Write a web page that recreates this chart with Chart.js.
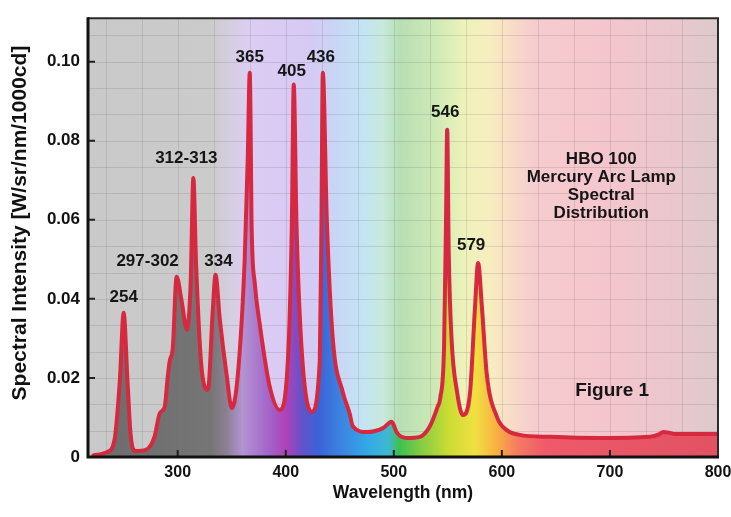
<!DOCTYPE html>
<html>
<head>
<meta charset="utf-8">
<title>HBO 100 Mercury Arc Lamp Spectral Distribution</title>
<script src="https://cdn.jsdelivr.net/npm/chart.js@4.4.1/dist/chart.umd.min.js"></script>
<style>
  html, body { margin: 0; padding: 0; background: #fff; }
  #wrap { width: 731px; height: 517px; }
</style>
</head>
<body>
<div id="wrap"><canvas id="spectrumChart"></canvas></div>
<script>
// HBO 100 mercury arc lamp - spectral distribution

const wavelengths = [
  222, 235, 241.5, 246.5, 250, 253.5, 256.5, 261, 270.5, 278.5,
  283.5, 288, 290.5, 292.5, 295.5, 299, 303.5, 308.5, 312, 314.5,
  317, 322, 328, 332.5, 335, 339, 345.5, 350, 355.5, 362,
  364.8, 366.7, 367.5, 368.3, 371.3, 376, 385, 394.5, 402, 405.6,
  407.4, 410, 415, 424, 431.5, 433, 434.3, 438, 443.5, 453,
  459, 462, 475, 490, 498, 503, 512, 524, 533, 540.5,
  543, 546.5, 548.3, 549.4, 550.8, 553.4, 558.5, 564, 570.5, 575,
  578, 581.5, 586, 595.5, 604.5, 616.5, 644.5, 690.5, 737, 746,
  749, 755.5, 760, 800
];
const intensity = [
  0.0004, 0.0013, 0.0043, 0.0195, 0.0365, 0.0195, 0.0055, 0.0015, 0.0018, 0.0051,
  0.0111, 0.0127, 0.0195, 0.0241, 0.0278, 0.0456, 0.0397, 0.0322, 0.0440, 0.0706,
  0.0490, 0.0228, 0.0170, 0.0372, 0.0461, 0.0347, 0.0203, 0.0124, 0.0203, 0.0499,
  0.0752, 0.0972, 0.0835, 0.0600, 0.0440, 0.0335, 0.0180, 0.0119, 0.0246, 0.0582,
  0.0942, 0.0582, 0.0260, 0.0114, 0.0246, 0.0582, 0.0972, 0.0600, 0.0300, 0.0162,
  0.0111, 0.0078, 0.0063, 0.0073, 0.0089, 0.0061, 0.0048, 0.0051, 0.0076, 0.0127,
  0.0150, 0.0280, 0.0600, 0.0828, 0.0520, 0.0300, 0.0165, 0.0106, 0.0162, 0.0372,
  0.0491, 0.0380, 0.0210, 0.0101, 0.0068, 0.0056, 0.0051, 0.0048, 0.0051, 0.0058,
  0.0063, 0.0061, 0.0058, 0.0058
];

const xTicks = [300, 400, 500, 600, 700, 800];
const yTicks = [0, 0.02, 0.04, 0.06, 0.08, 0.10];

const peakLabels = ['254', '297-302', '312-313', '334', '365', '405', '436', '546', '579'];
const peakWavelengths = [250, 299, 314.5, 335, 366.7, 407.4, 434.3, 549.4, 578];

const infoLines = ['HBO 100', 'Mercury Arc Lamp', 'Spectral', 'Distribution'];
const figureLabel = 'Figure 1';

const FONT = '"Liberation Sans", Arial, sans-serif';

// pale spectrum behind the plot, saturated spectrum under the curve
const bgStops = [
  [217, '#c9c9c9'], [330, '#cbcbcb'], [350, '#d6cee2'], [365, '#dccdf3'],
  [420, '#d6c9f3'], [445, '#c9d5f5'], [470, '#c4e3f4'], [490, '#c8e9dc'],
  [505, '#b8deb4'], [540, '#cfeab6'], [565, '#eef2ba'], [590, '#f8edc0'],
  [610, '#f8dbc8'], [630, '#f6cccf'], [700, '#f4c5cd'], [760, '#eac7cd'], [800, '#dccacd']
];
const fillStops = [
  [217, '#6c6c6c'], [330, '#757575'], [345, '#8c8092'], [360, '#b393d2'],
  [385, '#a263ca'], [400, '#b042b8'], [415, '#6452c8'], [430, '#3b62d8'],
  [450, '#3c82e0'], [475, '#32a8e8'], [495, '#40b8d0'], [505, '#3cc052'],
  [525, '#84cc42'], [550, '#cadc34'], [575, '#f0e042'], [595, '#f8b042'],
  [615, '#f47a62'], [640, '#ee5a6a'], [800, '#e25262']
];

// peak label offsets from the peak point, px
const peakOffsets = [[0, -15], [-29, -15], [-7, -20], [3, -13], [0, -15], [-2, -13], [-2, -15], [-2, -17], [-7, -18]];

function spectrumGradient(chart, stops) {
  const x = chart.scales.x;
  const g = chart.ctx.createLinearGradient(x.left, 0, x.right, 0);
  stops.forEach(([nm, color]) => {
    const t = (x.getPixelForValue(nm) - x.left) / (x.right - x.left);
    g.addColorStop(Math.min(Math.max(t, 0), 1), color);
  });
  return g;
}

const backdrop = {
  id: 'backdrop',
  beforeDraw(chart) {
    const { ctx, chartArea: a, scales: { x, y } } = chart;
    ctx.save();
    ctx.fillStyle = '#fff';
    ctx.fillRect(0, 0, chart.width, chart.height);
    ctx.fillStyle = spectrumGradient(chart, bgStops);
    ctx.fillRect(a.left, a.top, a.right - a.left, a.bottom - a.top);

    // faint grid, three cells per major step
    ctx.strokeStyle = 'rgba(110,110,110,0.2)';
    ctx.lineWidth = 1;
    ctx.beginPath();
    for (let k = -3; k <= 15; k++) {
      const v = 300 + k * 100 / 3;
      if (v <= x.min || v >= x.max) continue;
      const px = Math.round(x.getPixelForValue(v)) + 0.5;
      ctx.moveTo(px, a.top);
      ctx.lineTo(px, a.bottom);
    }
    for (let k = 1; k <= 16; k++) {
      const v = k * 0.02 / 3;
      if (v >= y.max) continue;
      const py = Math.round(y.getPixelForValue(v)) + 0.5;
      ctx.moveTo(a.left, py);
      ctx.lineTo(a.right, py);
    }
    ctx.stroke();
    ctx.restore();
  },
  afterDraw(chart) {
    const { ctx, chartArea: a, scales: { x, y } } = chart;
    ctx.save();

    // tick marks pointing into the plot
    ctx.strokeStyle = '#222';
    ctx.lineWidth = 2;
    ctx.beginPath();
    xTicks.slice(0, -1).forEach(v => {
      const px = x.getPixelForValue(v);
      ctx.moveTo(px, a.bottom);
      ctx.lineTo(px, a.bottom - 7);
    });
    yTicks.slice(1).forEach(v => {
      const py = y.getPixelForValue(v);
      ctx.moveTo(a.left, py);
      ctx.lineTo(a.left + 7, py);
    });
    ctx.stroke();

    // frame
    ctx.strokeStyle = '#2a2a2a';
    ctx.lineWidth = 2;
    ctx.beginPath();
    ctx.moveTo(a.left, a.top);
    ctx.lineTo(a.right, a.top);
    ctx.lineTo(a.right, a.bottom);
    ctx.stroke();
    ctx.strokeStyle = '#111';
    ctx.lineWidth = 3;
    ctx.beginPath();
    ctx.moveTo(a.left, a.top - 1);
    ctx.lineTo(a.left, a.bottom);
    ctx.lineTo(a.right + 1, a.bottom);
    ctx.stroke();

    // peak labels
    ctx.fillStyle = '#151515';
    ctx.textAlign = 'center';
    ctx.textBaseline = 'middle';
    ctx.font = `bold 17px ${FONT}`;
    peakLabels.forEach((txt, i) => {
      const idx = wavelengths.indexOf(peakWavelengths[i]);
      const px = x.getPixelForValue(peakWavelengths[i]) + peakOffsets[i][0];
      const py = y.getPixelForValue(intensity[idx]) + peakOffsets[i][1];
      ctx.fillText(txt, px, py);
    });

    // title block and figure number
    const cx = x.getPixelForValue(692);
    const top = y.getPixelForValue(0.0754);
    infoLines.forEach((line, i) => ctx.fillText(line, cx, top + i * 18));
    ctx.font = `bold 19px ${FONT}`;
    ctx.fillText(figureLabel, x.getPixelForValue(702), y.getPixelForValue(0.0167));
    ctx.restore();
  }
};

new Chart(document.getElementById('spectrumChart'), {
  type: 'line',
  data: {
    labels: wavelengths,
    datasets: [{
      data: wavelengths.map((w, i) => ({ x: w, y: intensity[i] })),
      borderColor: '#d6283e',
      borderWidth: 4,
      borderJoinStyle: 'round',
      borderCapStyle: 'round',
      pointRadius: 0,
      cubicInterpolationMode: 'monotone',
      fill: 'origin',
      backgroundColor: c => c.chart.chartArea ? spectrumGradient(c.chart, fillStops) : 'transparent'
    }]
  },
  options: {
    responsive: true,
    maintainAspectRatio: false,
    animation: false,
    devicePixelRatio: 1,
    layout: { padding: { top: 18, right: 13, left: 0, bottom: 0 } },
    plugins: { legend: { display: false }, tooltip: { enabled: false } },
    scales: {
      x: {
        type: 'linear',
        min: 217,
        max: 800,
        afterBuildTicks: s => { s.ticks = xTicks.map(v => ({ value: v })); },
        afterFit: s => { s.height = 60; s.paddingLeft = 0; s.paddingRight = 0; },
        grid: { display: false, drawTicks: false },
        border: { display: false },
        ticks: { color: '#111', padding: 6, maxRotation: 0, autoSkip: false, font: { family: FONT, size: 16, weight: 'bold' } },
        title: { display: true, text: 'Wavelength (nm)', color: '#111', padding: { top: 0, bottom: 13 }, font: { family: FONT, size: 17.5, weight: 'bold' } }
      },
      y: {
        min: 0,
        max: 0.111,
        afterBuildTicks: s => { s.ticks = yTicks.map(v => ({ value: v })); },
        afterFit: s => { s.width = 88; },
        grid: { display: false, drawTicks: false },
        border: { display: false },
        ticks: { color: '#111', padding: 8, callback: v => v === 0 ? '0' : v.toFixed(2), font: { family: FONT, size: 17, weight: 'bold' } },
        // leading spaces nudge the rotated title up, as in the original
        title: { display: true, text: '     Spectral Intensity [W/sr/nm/1000cd]', color: '#111', padding: { top: 8, bottom: 0 }, font: { family: FONT, size: 21, weight: 'bold' } }
      }
    }
  },
  plugins: [backdrop]
});
</script>
</body>
</html>
